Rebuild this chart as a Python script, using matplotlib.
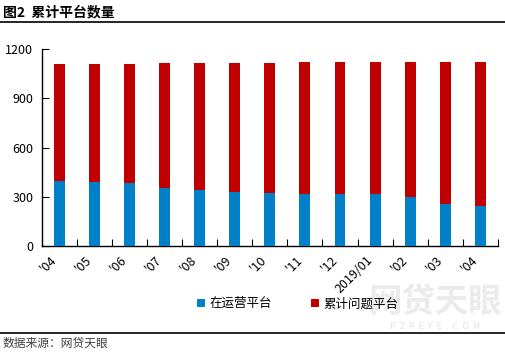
import matplotlib.pyplot as plt
import numpy as np

plt.rcParams['font.family'] = ['Noto Sans CJK SC', 'DejaVu Sans']

# 月份标签与平台数量
months = ["'04", "'05", "'06", "'07", "'08", "'09", "'10", "'11", "'12",
          "2019/01", "'02", "'03", "'04"]
operating = [399, 393, 386, 358, 344, 332, 326, 320, 320, 320, 301, 260, 248]
problem = [711, 716, 723, 758, 772, 784, 790, 798, 798, 798, 817, 858, 870]

blue = '#0080C8'
red = '#C00000'

fig = plt.figure(figsize=(5.05, 3.54), dpi=100)
ax = fig.add_axes([0.0826, 0.3037, 0.9034, 0.558])
ax.patch.set_visible(False)

x = np.arange(len(months))
ax.bar(x, operating, width=0.31, color=blue, label='在运营平台', zorder=3)
ax.bar(x, problem, width=0.31, bottom=operating, color=red, label='累计问题平台', zorder=3)

ax.set_xlim(-0.5, len(months) - 0.5)
ax.set_ylim(0, 1200)
ax.set_yticks([0, 300, 600, 900, 1200])
ax.tick_params(axis='y', direction='in', length=5, labelsize=9, pad=6)

# 类别边界处的刻度
ax.set_xticks(np.arange(len(months) + 1) - 0.5)
ax.set_xticklabels([])
ax.tick_params(axis='x', direction='in', length=5)
ax.set_xticks(x, minor=True)
ax.set_xticklabels(months, minor=True, rotation=45, ha='right', fontsize=9)
ax.tick_params(axis='x', which='minor', length=0, pad=5)

for s in ['top', 'right']:
    ax.spines[s].set_visible(False)
for s in ['left', 'bottom']:
    ax.spines[s].set_linewidth(1.0)

# 水印（画在图层最下面）
fig.text(0.862, 0.147, '网贷天眼', fontsize=24, fontweight='bold', color='#EBEBEB',
         ha='center', va='center', zorder=-5)
fig.text(0.862, 0.078, 'P  2  P  E  Y  E  .  C  O  M', fontsize=6.5, color='#E3E3E3',
         ha='center', va='center', zorder=-5)

ax.legend(loc='center', bbox_to_anchor=(0.562, -0.29), ncol=2, frameon=False,
          fontsize=9, handlelength=0.6, handleheight=0.6, columnspacing=3.1,
          handletextpad=0.4)

# 标题和来源
fig.text(0.006, 0.965, '图2  累计平台数量', fontsize=10, fontweight='bold', va='center')
fig.add_artist(plt.Line2D([0, 1], [0.938, 0.938], color='black', lw=1.2))
fig.add_artist(plt.Line2D([0, 1], [0.059, 0.059], color='black', lw=1.2))
fig.text(0.006, 0.030, '数据来源：网贷天眼', fontsize=8.5, color='#404040', va='center')

fig.savefig('out.png', dpi=100)
